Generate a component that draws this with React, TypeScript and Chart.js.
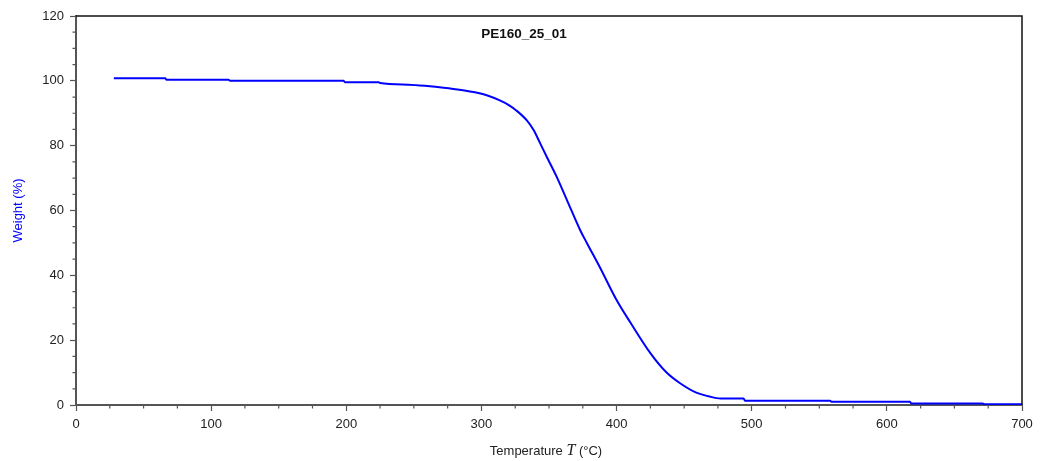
import React, { useEffect, useRef } from "react";
import { Chart, registerables } from "chart.js";

Chart.register(...registerables);

// Temperature (°C) and weight (%)
const temperatures = [
  28, 66, 67, 113, 114, 198, 199, 224, 225, 246, 260, 272, 285, 296, 305, 314,
  320, 326, 333.6, 338.5, 343.4, 348.4, 355.8, 363.2, 373, 378, 388, 400, 410,
  425, 437, 447, 459, 468, 477, 494, 495, 558, 559, 617, 618, 671, 672, 700,
];
const weights = [
  100.8, 100.8, 100.3, 100.3, 100.0, 100.0, 99.6, 99.6, 99.3, 98.8, 98.4, 97.9,
  97.2, 96.4, 95.4, 93.9, 92.6, 90.8, 87.8, 84.9, 80.8, 76.5, 70.3, 63.3, 54.0,
  50.0, 42.2, 32.4, 25.6, 16.0, 10.0, 6.7, 3.8, 2.7, 2.0, 2.0, 1.3, 1.3, 1.0,
  1.0, 0.5, 0.5, 0.25, 0.25,
];

const chartTitle = "PE160_25_01";
const yAxisTitle = "Weight (%)";
const xTitleBefore = "Temperature ";
const xTitleSymbol = "T";
const xTitleAfter = " (°C)";

const xMin = 0;
const xMax = 700;
const xMajorStep = 100;
const xMinorStep = 25;
const yMin = 0;
const yMax = 120;
const yMajorStep = 20;
const yMinorStep = 5;

const SANS = "'Liberation Sans', Arial, sans-serif";

export default function App() {
  const canvasRef = useRef<HTMLCanvasElement>(null);

  useEffect(() => {
    document.body.style.margin = "0";
    const canvas = canvasRef.current;
    if (!canvas) return;

    const decorations = {
      id: "decorations",
      afterDraw(chart: any) {
        const { ctx, chartArea } = chart;
        const xs = chart.scales.x;
        const ys = chart.scales.y;
        ctx.save();
        // top & right frame
        ctx.strokeStyle = "#111";
        ctx.lineWidth = 1.5;
        ctx.beginPath();
        ctx.moveTo(chartArea.left, chartArea.top);
        ctx.lineTo(chartArea.right, chartArea.top);
        ctx.lineTo(chartArea.right, chartArea.bottom);
        ctx.stroke();

        // minor ticks
        ctx.strokeStyle = "#555";
        ctx.lineWidth = 1.2;
        ctx.beginPath();
        for (let v = xMin + xMinorStep; v < xMax; v += xMinorStep) {
          if (v % xMajorStep === 0) continue;
          const px = xs.getPixelForValue(v);
          ctx.moveTo(px, chartArea.bottom);
          ctx.lineTo(px, chartArea.bottom + 3.5);
        }
        for (let v = yMin + yMinorStep; v < yMax; v += yMinorStep) {
          if (v % yMajorStep === 0) continue;
          const py = ys.getPixelForValue(v);
          ctx.moveTo(chartArea.left, py);
          ctx.lineTo(chartArea.left - 3.5, py);
        }
        ctx.stroke();

        // chart title inside plot
        ctx.fillStyle = "#111";
        ctx.font = `bold 13.5px ${SANS}`;
        ctx.textAlign = "center";
        ctx.textBaseline = "middle";
        ctx.fillText(chartTitle, xs.getPixelForValue(350) - 25, 34);

        // x axis title with italic symbol
        const fontSans = `13px ${SANS}`;
        const fontSym = `italic 16px 'Liberation Serif', 'DejaVu Serif', serif`;
        ctx.font = fontSans;
        const w1 = ctx.measureText(xTitleBefore).width;
        const w3 = ctx.measureText(xTitleAfter).width;
        ctx.font = fontSym;
        const w2 = ctx.measureText(xTitleSymbol).width;
        const total = w1 + w2 + w3;
        let x0 = 546 - total / 2;
        const yBase = 455;
        ctx.textAlign = "left";
        ctx.textBaseline = "alphabetic";
        ctx.fillStyle = "#222";
        ctx.font = fontSans;
        ctx.fillText(xTitleBefore, x0, yBase);
        x0 += w1;
        ctx.font = fontSym;
        ctx.fillText(xTitleSymbol, x0, yBase);
        x0 += w2;
        ctx.font = fontSans;
        ctx.fillText(xTitleAfter, x0, yBase);
        ctx.restore();
      },
    };

    const chart = new Chart(canvas, {
      type: "line",
      data: {
        datasets: [
          {
            label: chartTitle,
            data: temperatures.map((t, i) => ({ x: t, y: weights[i] })),
            borderColor: "#0000ff",
            borderWidth: 2,
            pointRadius: 0,
            cubicInterpolationMode: "monotone",
            fill: false,
          },
        ],
      },
      options: {
        responsive: false,
        animation: false,
        layout: { padding: { left: 0, top: 16, right: 18, bottom: 0 } },
        plugins: {
          legend: { display: false },
          tooltip: { enabled: false },
          title: { display: false },
        },
        scales: {
          x: {
            type: "linear",
            min: xMin,
            max: xMax,
            afterFit: (s: any) => {
              s.height = 56;
            },
            ticks: {
              stepSize: xMajorStep,
              color: "#222",
              font: { family: SANS, size: 13 },
              padding: 6,
              maxRotation: 0,
            },
            grid: {
              drawOnChartArea: false,
              drawTicks: true,
              tickLength: 6,
              tickColor: "#555",
              tickWidth: 1.2,
            },
            border: { display: true, color: "#555", width: 2 },
          },
          y: {
            type: "linear",
            min: yMin,
            max: yMax,
            afterFit: (s: any) => {
              s.width = 76;
            },
            ticks: {
              stepSize: yMajorStep,
              color: "#222",
              font: { family: SANS, size: 13 },
              padding: 6,
            },
            grid: {
              drawOnChartArea: false,
              drawTicks: true,
              tickLength: 6,
              tickColor: "#555",
              tickWidth: 1.2,
            },
            border: { display: true, color: "#555", width: 2 },
            title: {
              display: true,
              text: yAxisTitle,
              color: "#0000ff",
              font: { family: SANS, size: 13 },
              padding: { top: 11, bottom: 0 },
            },
          },
        },
      },
      plugins: [decorations],
    });

    return () => chart.destroy();
  }, []);

  return (
    <div style={{ width: 1040, height: 461 }}>
      <canvas
        ref={canvasRef}
        width={1040}
        height={461}
        style={{ display: "block" }}
      />
    </div>
  );
}
